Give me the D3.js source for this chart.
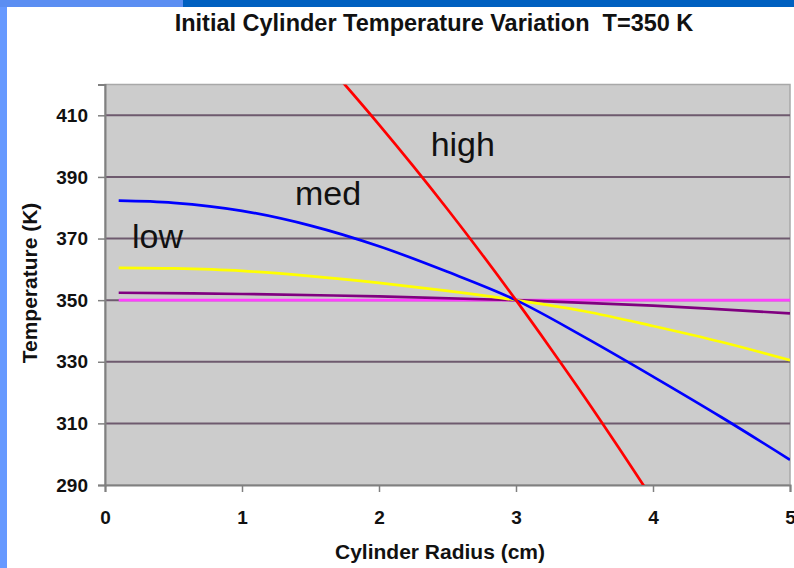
<!DOCTYPE html>
<html>
<head>
<meta charset="utf-8">
<script src="https://cdn.jsdelivr.net/npm/d3@7"></script>
<style>
  body { margin: 0; background: #fff; }
  svg { display: block; font-family: Arial, "Liberation Sans", sans-serif; }
</style>
</head>
<body>
<div id="chart"></div>
<script>
var width = 794,
    height = 568;

// radius (cm) and temperature (K)
var uniformR = [0.1, 5];
var uniformT = [350, 350];

var purpleR = [0.1, 1, 2, 3, 4, 5];
var purpleT = [352.4, 352, 351.2, 350, 348.2, 345.7];

var lowR = [0.1, 0.5, 1, 1.5, 2, 2.5, 3, 3.5, 4, 4.5, 5];
var lowT = [360.5, 360.3, 359.5, 357.8, 355.6, 353, 350, 346.4, 341.6, 336.4, 330.5];

var medR = [0.1, 0.5, 1, 1.5, 2, 2.5, 3, 3.5, 4, 4.5, 5];
var medT = [382.3, 381.6, 379, 374.2, 367.5, 359.2, 350, 338, 325.2, 312, 298.2];

var highR = [1.5, 1.75, 2, 2.25, 2.5, 2.75, 3, 3.25, 3.5, 3.75, 4];
var highT = [432.6, 420, 407, 393.5, 379.5, 365, 350, 334.5, 318.6, 302.1, 285.2];

var xTicks = [0, 1, 2, 3, 4, 5];
var yTicks = [290, 310, 330, 350, 370, 390, 410];

var series = [
    {name: "uniform", r: uniformR, t: uniformT, color: "#ff40ff"},
    {name: "purple", r: purpleR, t: purpleT, color: "#800080"},
    {name: "low", r: lowR, t: lowT, color: "#ffff00"},
    {name: "med", r: medR, t: medT, color: "#0000ff"},
    {name: "high", r: highR, t: highT, color: "#ff0000"}
];

var lineLabels = [
    {text: "high", r: 2.377, t: 396.8},
    {text: "med", r: 1.387, t: 380.9},
    {text: "low", r: 0.197, t: 366.9}
];

var plot = {left: 105, right: 790, top: 84.5, bottom: 485};

var svg = d3.select("#chart").append("svg")
    .attr("width", width)
    .attr("height", height);

// slide frame
svg.append("rect").attr("x", 0).attr("y", 0).attr("width", 7).attr("height", height).attr("fill", "#6699ff");
svg.append("rect").attr("x", 0).attr("y", 0).attr("width", 183).attr("height", 7).attr("fill", "#5b8ef2");
svg.append("rect").attr("x", 183).attr("y", 0).attr("width", width - 183).attr("height", 7).attr("fill", "#0060c0");

var x = d3.scaleLinear().domain([0, 5]).range([plot.left, plot.right]);
var y = d3.scaleLinear().domain([290, 420]).range([plot.bottom, plot.top]);

svg.append("rect")
    .attr("x", plot.left)
    .attr("y", plot.top)
    .attr("width", plot.right - plot.left)
    .attr("height", plot.bottom - plot.top)
    .attr("fill", "#cccccc")
    .attr("stroke", "#a8a8a8")
    .attr("stroke-width", 1.5);

svg.append("clipPath").attr("id", "clip")
    .append("rect")
    .attr("x", plot.left)
    .attr("y", plot.top)
    .attr("width", plot.right - plot.left)
    .attr("height", plot.bottom - plot.top);

// gridlines
svg.append("g").selectAll("line")
    .data(yTicks.slice(1))
    .enter().append("line")
    .attr("x1", plot.left)
    .attr("x2", plot.right)
    .attr("y1", function(d) { return y(d); })
    .attr("y2", function(d) { return y(d); })
    .attr("stroke", "#6e5a6e")
    .attr("stroke-width", 2);

// axes
var yAxis = svg.append("g")
    .attr("transform", "translate(" + plot.left + ",0)")
    .call(d3.axisLeft(y).tickValues(yTicks).tickFormat(d3.format("d")).tickSize(7).tickPadding(10));

var xAxis = svg.append("g")
    .attr("transform", "translate(0," + plot.bottom + ")")
    .call(d3.axisBottom(x).tickValues(xTicks).tickFormat(d3.format("d")).tickSize(7).tickPadding(19));

[yAxis, xAxis].forEach(function(a) {
    a.select(".domain").attr("stroke", "#808080").attr("stroke-width", 2);
    a.selectAll(".tick line").attr("stroke", "#808080").attr("stroke-width", 1.5);
    a.selectAll(".tick text")
        .attr("fill", "#111")
        .style("font-size", "19px")
        .style("font-weight", "bold");
});

// curves
var line = d3.line()
    .x(function(d) { return x(d[0]); })
    .y(function(d) { return y(d[1]); })
    .curve(d3.curveCatmullRom);

svg.append("g")
    .attr("clip-path", "url(#clip)")
    .selectAll("path")
    .data(series)
    .enter().append("path")
    .attr("d", function(s) { return line(d3.zip(s.r, s.t)); })
    .attr("fill", "none")
    .attr("stroke", function(s) { return s.color; })
    .attr("stroke-width", 2.7);

svg.append("g").selectAll("text")
    .data(lineLabels)
    .enter().append("text")
    .attr("x", function(d) { return x(d.r); })
    .attr("y", function(d) { return y(d.t); })
    .style("font-size", "34px")
    .attr("fill", "#111")
    .text(function(d) { return d.text; });

// titles
svg.append("text")
    .attr("x", 434)
    .attr("y", 31)
    .attr("text-anchor", "middle")
    .style("font-size", "23.5px")
    .style("font-weight", "bold")
    .attr("fill", "#111")
    .attr("xml:space", "preserve")
    .text("Initial Cylinder Temperature Variation  T=350 K");

svg.append("text")
    .attr("x", 440)
    .attr("y", 559)
    .attr("text-anchor", "middle")
    .style("font-size", "21px")
    .style("font-weight", "bold")
    .attr("fill", "#111")
    .text("Cylinder Radius (cm)");

svg.append("text")
    .attr("transform", "translate(37,283) rotate(-90)")
    .attr("text-anchor", "middle")
    .style("font-size", "21px")
    .style("font-weight", "bold")
    .attr("fill", "#111")
    .text("Temperature (K)");
</script>
</body>
</html>
